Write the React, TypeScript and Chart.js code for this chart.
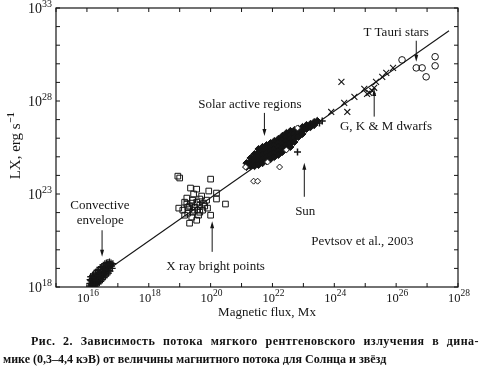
import { useEffect, useRef } from "react";
import { Chart, registerables } from "chart.js";
Chart.register(...registerables);

// All values are log10 of (magnetic flux [Mx], LX [erg/s])
const regressionLog: [number, number][] = [[16.2, 18.38], [27.71, 31.78]];

const convectiveLog: [number, number][] = [
  [16.10, 18.20], [16.12, 18.35], [16.14, 18.10], [16.15, 18.28], [16.17, 18.45], [16.18, 18.18],
  [16.20, 18.38], [16.22, 18.27], [16.23, 18.55], [16.25, 18.42], [16.26, 18.15], [16.28, 18.33],
  [16.30, 18.60], [16.31, 18.48], [16.33, 18.25], [16.35, 18.70], [16.36, 18.52], [16.38, 18.40],
  [16.40, 18.78], [16.41, 18.62], [16.43, 18.50], [16.45, 18.85], [16.46, 18.70], [16.48, 18.58],
  [16.50, 18.92], [16.52, 18.76], [16.53, 18.64], [16.55, 19.00], [16.57, 18.84], [16.58, 18.72],
  [16.60, 19.05], [16.62, 18.90], [16.64, 18.80], [16.66, 19.12], [16.68, 18.98], [16.70, 18.88],
  [16.72, 19.18], [16.74, 19.05], [16.77, 19.22], [16.80, 19.12], [16.40, 18.30], [16.27, 18.05],
  [16.58, 18.95], [16.45, 18.45],
  [16.08, 18.05], [16.10, 18.40], [16.12, 18.55], [16.15, 18.02], [16.18, 18.62], [16.20, 18.08],
  [16.22, 18.70], [16.28, 18.80], [16.30, 18.12], [16.33, 18.90], [16.35, 18.20], [16.38, 18.95],
  [16.40, 18.22], [16.43, 19.05], [16.45, 18.30], [16.48, 19.10], [16.50, 18.40], [16.53, 19.18],
  [16.55, 18.50], [16.58, 19.25], [16.60, 18.58], [16.63, 19.30], [16.65, 18.65], [16.68, 19.32],
  [16.70, 18.75], [16.73, 19.35], [16.75, 18.85], [16.78, 19.30], [16.82, 19.00], [16.84, 19.25],
  [16.20, 18.50], [16.35, 18.62], [16.50, 18.68], [16.62, 19.15], [16.15, 18.12], [16.25, 18.22],
  [16.55, 18.80], [16.68, 19.22], [16.30, 18.35],
];

const xrayLog: [number, number][] = [
  [18.94, 23.96], [19.00, 23.86], [20.00, 23.80], [19.35, 23.32], [19.55, 23.26], [19.94, 23.16],
  [20.19, 23.05], [19.45, 23.00], [19.71, 22.89], [19.23, 22.78], [20.19, 22.73], [19.16, 22.56],
  [20.48, 22.46], [18.97, 22.24], [19.10, 22.13], [19.26, 22.29], [19.39, 22.51], [19.55, 22.56],
  [19.65, 22.40], [19.77, 22.51], [19.90, 22.24], [19.74, 22.13], [19.58, 22.13], [19.42, 22.02],
  [19.26, 21.97], [19.16, 21.86], [20.00, 21.86], [19.39, 21.76], [19.55, 21.59], [19.32, 21.43],
  [19.87, 22.67], [19.65, 22.73], [19.48, 22.29], [19.23, 22.46], [19.48, 22.13], [19.65, 22.02],
  [19.32, 22.35], [19.81, 22.35], [19.42, 22.67], [19.61, 21.86],
];

const activeCoreLog: [number, number][] = [
  [21.16, 24.66], [21.16, 24.45],
  [21.29, 24.93], [21.29, 24.72], [21.29, 24.50],
  [21.42, 25.15], [21.42, 24.93], [21.42, 24.72], [21.42, 24.50],
  [21.55, 25.42], [21.55, 25.20], [21.55, 24.99], [21.55, 24.77], [21.55, 24.56],
  [21.68, 25.53], [21.68, 25.31], [21.68, 25.10], [21.68, 24.88], [21.68, 24.66],
  [21.81, 25.63], [21.81, 25.42], [21.81, 25.20], [21.81, 24.99], [21.81, 24.77],
  [21.94, 25.74], [21.94, 25.53], [21.94, 25.31], [21.94, 25.10], [21.94, 24.88],
  [22.06, 25.85], [22.06, 25.63], [22.06, 25.42], [22.06, 25.20], [22.06, 24.99],
  [22.19, 25.96], [22.19, 25.74], [22.19, 25.53], [22.19, 25.31], [22.19, 25.10],
  [22.32, 26.12], [22.32, 25.90], [22.32, 25.69], [22.32, 25.47], [22.32, 25.26],
  [22.45, 26.28], [22.45, 26.07], [22.45, 25.85], [22.45, 25.63], [22.45, 25.42],
  [22.58, 26.39], [22.58, 26.17], [22.58, 25.96], [22.58, 25.74], [22.58, 25.53],
  [22.71, 26.44], [22.71, 26.23], [22.71, 26.01], [22.71, 25.80],
  [22.84, 26.50], [22.84, 26.28], [22.84, 26.07],
  [22.97, 26.60], [22.97, 26.39], [22.97, 26.23],
  [23.10, 26.71], [23.10, 26.50],
  [23.23, 26.77], [23.23, 26.60],
  [23.35, 26.87], [23.35, 26.71],
  [23.45, 26.93],
];

const activeOutlierLog: [number, number][] = [
  [22.23, 24.45], [21.39, 23.69], [21.52, 23.69], [22.45, 25.37], [22.81, 26.55],
  [21.13, 24.45], [21.84, 24.72],
];

const sunLog: [number, number][] = [
  [22.81, 25.26], [23.03, 26.44], [23.19, 26.60], [23.35, 26.71], [23.52, 26.82], [23.61, 26.93],
];

const dwarfLog: [number, number][] = [
  [23.90, 27.41], [24.23, 29.03], [24.42, 27.41], [24.32, 27.90], [24.65, 28.22], [24.97, 28.65],
  [25.06, 28.38], [25.13, 28.44], [25.23, 28.54], [25.29, 28.71], [25.35, 29.03], [25.55, 29.30],
  [25.68, 29.51], [25.90, 29.78],
];

const tTauriLog: [number, number][] = [
  [26.19, 30.21], [26.65, 29.78], [26.84, 29.78], [26.97, 29.30], [27.26, 30.38], [27.26, 29.89],
];

const xDecades = [15, 16, 17, 18, 19, 20, 21, 22, 23, 24, 25, 26, 27, 28];
const yDecades = [18, 19, 20, 21, 22, 23, 24, 25, 26, 27, 28, 29, 30, 31, 32, 33];
const xTickExps = [16, 18, 20, 22, 24, 26, 28];
const yTickExps = [18, 23, 28, 33];

const xTitle = "Magnetic flux, Mx";
const yTitle = "LX, erg s";
const yTitleSup = "\u22121";
const captionLine1 = "Рис. 2. Зависимость потока мягкого рентгеновского излучения в дина-";
const captionLine2 = "мике (0,3–4,4 кэВ) от величины магнитного потока для Солнца и звёзд";

const SERIF = '"Liberation Serif", "Times New Roman", serif';
const INK = "#151515";

const toPts = (arr: [number, number][]) => arr.map(([lx, ly]) => ({ x: Math.pow(10, lx), y: Math.pow(10, ly) }));

type Ann = { text: string; lx: number; ly: number; arrow?: { lx: number; from: number; to: number } };
const annotations: Ann[] = [
  { text: "T Tauri stars", lx: 26.0, ly: 31.67, arrow: { lx: 26.65, from: 31.24, to: 30.11 } },
  { text: "Solar active regions", lx: 21.27, ly: 27.79, arrow: { lx: 21.74, from: 27.36, to: 26.12 } },
  { text: "G, K & M dwarfs", lx: 25.67, ly: 26.62, arrow: { lx: 25.29, from: 27.16, to: 28.64 } },
  { text: "Sun", lx: 23.06, ly: 22.04, arrow: { lx: 23.03, from: 22.85, to: 24.68 } },
  { text: "Pevtsov et al., 2003", lx: 24.91, ly: 20.42 },
  { text: "Convective", lx: 16.42, ly: 22.36 },
  { text: "envelope", lx: 16.43, ly: 21.59, arrow: { lx: 16.49, from: 21.05, to: 19.62 } },
  { text: "X ray bright points", lx: 20.16, ly: 19.08, arrow: { lx: 20.05, from: 19.89, to: 21.54 } },
];

function drawPower(ctx: CanvasRenderingContext2D, x: number, baseline: number, exp: number,
  baseSize: number, expSize: number, raise: number, align: "center" | "right") {
  ctx.font = `${baseSize}px ${SERIF}`;
  const bw = ctx.measureText("10").width;
  ctx.font = `${expSize}px ${SERIF}`;
  const es = String(exp);
  const ew = ctx.measureText(es).width;
  const total = bw + ew;
  const left = align === "center" ? x - total / 2 : x - total;
  ctx.textAlign = "left";
  ctx.textBaseline = "alphabetic";
  ctx.font = `${baseSize}px ${SERIF}`;
  ctx.fillText("10", left, baseline);
  ctx.font = `${expSize}px ${SERIF}`;
  ctx.fillText(es, left + bw, baseline - raise);
}

const framePlugin = {
  id: "frame",
  afterDraw(chart: any) {
    const ctx: CanvasRenderingContext2D = chart.ctx;
    const ca = chart.chartArea;
    const xs = chart.scales.x;
    const ys = chart.scales.y;
    ctx.save();
    ctx.strokeStyle = INK;
    ctx.fillStyle = INK;
    ctx.lineWidth = 1.2;
    ctx.strokeRect(ca.left, ca.top, ca.right - ca.left, ca.bottom - ca.top);
    ctx.lineWidth = 1;
    ctx.beginPath();
    for (const e of xDecades) {
      const px = xs.getPixelForValue(Math.pow(10, e));
      ctx.moveTo(px, ca.bottom); ctx.lineTo(px, ca.bottom - 4);
      ctx.moveTo(px, ca.top); ctx.lineTo(px, ca.top + 4);
    }
    for (const e of yDecades) {
      const py = ys.getPixelForValue(Math.pow(10, e));
      ctx.moveTo(ca.left, py); ctx.lineTo(ca.left + 4, py);
      ctx.moveTo(ca.right, py); ctx.lineTo(ca.right - 4, py);
    }
    ctx.stroke();

    for (const e of xTickExps) {
      const px = xs.getPixelForValue(Math.pow(10, e));
      drawPower(ctx, px + 1, ca.bottom + 15, e, 12.5, 9.5, 6, "center");
    }
    for (const e of yTickExps) {
      const py = ys.getPixelForValue(Math.pow(10, e));
      drawPower(ctx, ca.left - 4, py + 5, e, 14, 10, 6, "right");
    }

    // axis titles
    ctx.font = `13px ${SERIF}`;
    ctx.textAlign = "center";
    ctx.textBaseline = "alphabetic";
    ctx.fillText(xTitle, (ca.left + ca.right) / 2 + 10, ca.bottom + 29);

    ctx.save();
    ctx.translate(15, 146);
    ctx.rotate(-Math.PI / 2);
    ctx.font = `15px ${SERIF}`;
    const w1 = ctx.measureText(yTitle).width;
    ctx.font = `bold 10px ${SERIF}`;
    const w2 = ctx.measureText(yTitleSup).width;
    const start = -(w1 + w2) / 2;
    ctx.textAlign = "left";
    ctx.font = `15px ${SERIF}`;
    ctx.fillText(yTitle, start, 5);
    ctx.font = `bold 10px ${SERIF}`;
    ctx.fillText(yTitleSup, start + w1 + 0.5, -1);
    ctx.restore();

    // annotations
    ctx.font = `13px ${SERIF}`;
    ctx.textAlign = "center";
    ctx.textBaseline = "middle";
    for (const a of annotations) {
      const tx = xs.getPixelForValue(Math.pow(10, a.lx));
      const ty = ys.getPixelForValue(Math.pow(10, a.ly));
      ctx.fillText(a.text, tx, ty);
      if (a.arrow) {
        const ax = xs.getPixelForValue(Math.pow(10, a.arrow.lx));
        const y1 = ys.getPixelForValue(Math.pow(10, a.arrow.from));
        const y2 = ys.getPixelForValue(Math.pow(10, a.arrow.to));
        const dir = y2 > y1 ? 1 : -1;
        ctx.beginPath();
        ctx.lineWidth = 1;
        ctx.moveTo(ax, y1);
        ctx.lineTo(ax, y2 - dir * 5);
        ctx.stroke();
        ctx.beginPath();
        ctx.moveTo(ax, y2);
        ctx.lineTo(ax - 2, y2 - dir * 7);
        ctx.lineTo(ax + 2, y2 - dir * 7);
        ctx.closePath();
        ctx.fill();
      }
    }
    ctx.restore();
  },
};

export default function App() {
  const ref = useRef<HTMLCanvasElement>(null);
  useEffect(() => {
    if (!ref.current) return;
    const hollow = "rgba(0,0,0,0)";
    const chart = new Chart(ref.current, {
      type: "scatter",
      data: {
        datasets: [
          { label: "fit", data: toPts(regressionLog), showLine: true, borderColor: INK, borderWidth: 1.1, pointRadius: 0, order: 10 } as any,
          { label: "Convective envelope", data: toPts(convectiveLog), pointStyle: "cross", pointRadius: 3.4, borderColor: INK, borderWidth: 1.3, order: 5 },
          { label: "X ray bright points", data: toPts(xrayLog), pointStyle: "rect", pointRadius: 4, borderColor: INK, backgroundColor: hollow, borderWidth: 1, order: 5 },
          { label: "Solar active regions", data: toPts(activeCoreLog), pointStyle: "rectRot", pointRadius: 3.6, borderColor: INK, backgroundColor: INK, borderWidth: 1, order: 5 },
          { label: "Active region outliers", data: toPts(activeOutlierLog), pointStyle: "rectRot", pointRadius: 3, borderColor: INK, backgroundColor: "#fff", borderWidth: 1, order: 4 },
          { label: "Sun", data: toPts(sunLog), pointStyle: "cross", pointRadius: 3.5, borderColor: INK, borderWidth: 1.5, order: 3 },
          { label: "G, K & M dwarfs", data: toPts(dwarfLog), pointStyle: "crossRot", pointRadius: 4.2, borderColor: INK, borderWidth: 1.1, order: 3 },
          { label: "T Tauri stars", data: toPts(tTauriLog), pointStyle: "circle", pointRadius: 3.3, borderColor: INK, backgroundColor: hollow, borderWidth: 1, order: 3 },
        ],
      },
      options: {
        animation: false,
        responsive: false,
        devicePixelRatio: 1,
        layout: { padding: { left: 56, right: 24, top: 8, bottom: 85 } },
        plugins: { legend: { display: false }, tooltip: { enabled: false } },
        events: [],
        scales: {
          x: { type: "logarithmic", min: 1e15, max: 1e28, display: false },
          y: { type: "logarithmic", min: 1e18, max: 1e33, display: false },
        },
      },
      plugins: [framePlugin],
    });
    return () => chart.destroy();
  }, []);

  const capStyle: any = {
    position: "absolute",
    font: `bold 12px ${SERIF}`,
    lineHeight: "15px",
    color: "#111",
    whiteSpace: "nowrap",
  };
  return (
    <div style={{ position: "fixed", left: 0, top: 0, width: 482, height: 372, background: "#fff", overflow: "hidden" }}>
      <canvas ref={ref} width={482} height={372} style={{ position: "absolute", left: 0, top: 0, width: 482, height: 372 }} />
      <div style={{ ...capStyle, left: 31, top: 334, width: 448, letterSpacing: "0.45px", textAlign: "justify", textAlignLast: "justify", whiteSpace: "normal" }}>{captionLine1}</div>
      <div style={{ ...capStyle, left: 3, top: 352 }}>{captionLine2}</div>
    </div>
  );
}
